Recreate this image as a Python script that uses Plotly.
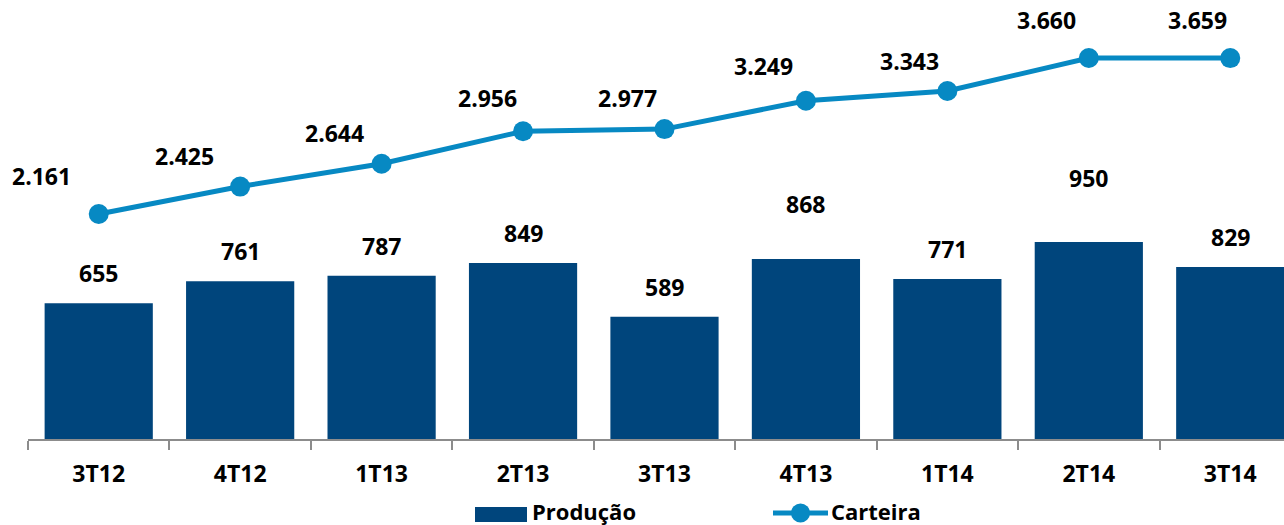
import plotly.graph_objects as go

categories = ["3T12", "4T12", "1T13", "2T13", "3T13", "4T13", "1T14", "2T14", "3T14"]
producao = [655, 761, 787, 849, 589, 868, 771, 950, 829]
carteira = [2161, 2425, 2644, 2956, 2977, 3249, 3343, 3660, 3659]

def fmt_thousands(v):
    return f"{v:,}".replace(",", ".")

BAR_COLOR = "#00457C"
LINE_COLOR = "#0789C3"
FONT = "Open Sans"
FS = 23

# label offsets (styling)
bar_label_up = [30, 30, 30, 30, 30, 55, 30, 64, 30]
line_label_dx = [-57, -56, -47, -36, -37, -42, -38, -42, -33]
line_label_up = [38, 31, 31, 33, 31, 35, 30, 38, 38]

fig = go.Figure()
fig.add_trace(go.Bar(x=categories, y=producao, marker=dict(color=BAR_COLOR, line=dict(width=0)),
                     width=0.765, name="Produção", showlegend=False, yaxis="y"))
fig.add_trace(go.Scatter(x=categories, y=carteira, mode="lines+markers", name="Carteira",
                         line=dict(color=LINE_COLOR, width=5),
                         marker=dict(color=LINE_COLOR, size=20), showlegend=False, yaxis="y2"))

annotations = []
for c, v, up in zip(categories, producao, bar_label_up):
    annotations.append(dict(x=c, y=v, xref="x", yref="y", text=f"<b>{v}</b>", showarrow=False,
                            yanchor="middle", xanchor="center", yshift=up,
                            font=dict(family=FONT, size=FS, color="#000000")))
for c, v, dx, up in zip(categories, carteira, line_label_dx, line_label_up):
    annotations.append(dict(x=c, y=v, xref="x", yref="y2", text=f"<b>{fmt_thousands(v)}</b>",
                            showarrow=False, yanchor="middle", xanchor="center",
                            xshift=dx, yshift=up,
                            font=dict(family=FONT, size=FS, color="#000000")))

W, H = 1284, 525
L = 28
plot_h = 439
plot_w = W - L

def px_x(x):
    return (x - L) / plot_w

def px_y(y):
    return (plot_h - y) / plot_h

# custom legend
shapes = [
    dict(type="rect", xref="paper", yref="paper", x0=px_x(475), x1=px_x(527),
         y0=px_y(522), y1=px_y(507), fillcolor=BAR_COLOR, line=dict(width=0), layer="above"),
    dict(type="line", xref="paper", yref="paper", x0=px_x(773), x1=px_x(828),
         y0=px_y(513), y1=px_y(513), line=dict(color=LINE_COLOR, width=5), layer="above"),
    dict(type="circle", xref="paper", yref="paper", x0=px_x(791), x1=px_x(810),
         y0=px_y(522.5), y1=px_y(503.5), fillcolor=LINE_COLOR, line=dict(width=0), layer="above"),
]
LFS = 22
annotations.append(dict(x=px_x(530), y=px_y(511), xref="paper", yref="paper", text="<b>Produção</b>",
                        showarrow=False, xanchor="left", yanchor="middle",
                        font=dict(family=FONT, size=LFS, color="#000000")))
annotations.append(dict(x=px_x(829), y=px_y(511), xref="paper", yref="paper", text="<b>Carteira</b>",
                        showarrow=False, xanchor="left", yanchor="middle",
                        font=dict(family=FONT, size=LFS, color="#000000")))

fig.update_layout(
    width=W, height=H,
    margin=dict(l=L, r=0, t=0, b=H - plot_h, pad=0),
    paper_bgcolor="white", plot_bgcolor="white",
    xaxis=dict(type="category", range=[-0.5, 8.38], showline=True, linecolor="#8C8C8C", linewidth=1.5,
               ticks="outside", tickson="boundaries", ticklen=9, tickwidth=1.5, tickcolor="#8C8C8C",
               tickfont=dict(family=FONT, size=FS, color="#000000"), ticklabelstandoff=14,
               showgrid=False, zeroline=False, tickprefix="<b>", ticksuffix="</b>"),
    yaxis=dict(range=[0, plot_h / 0.2074], visible=False, showgrid=False, zeroline=False),
    yaxis2=dict(range=[0, plot_h / 0.1041], overlaying="y", visible=False, showgrid=False, zeroline=False),
    annotations=annotations,
    shapes=shapes,
    showlegend=False,
)

fig.write_html("out.html", config={"displayModeBar": False},
               post_script="document.body.style.margin='0px';document.body.style.overflow='hidden';")
